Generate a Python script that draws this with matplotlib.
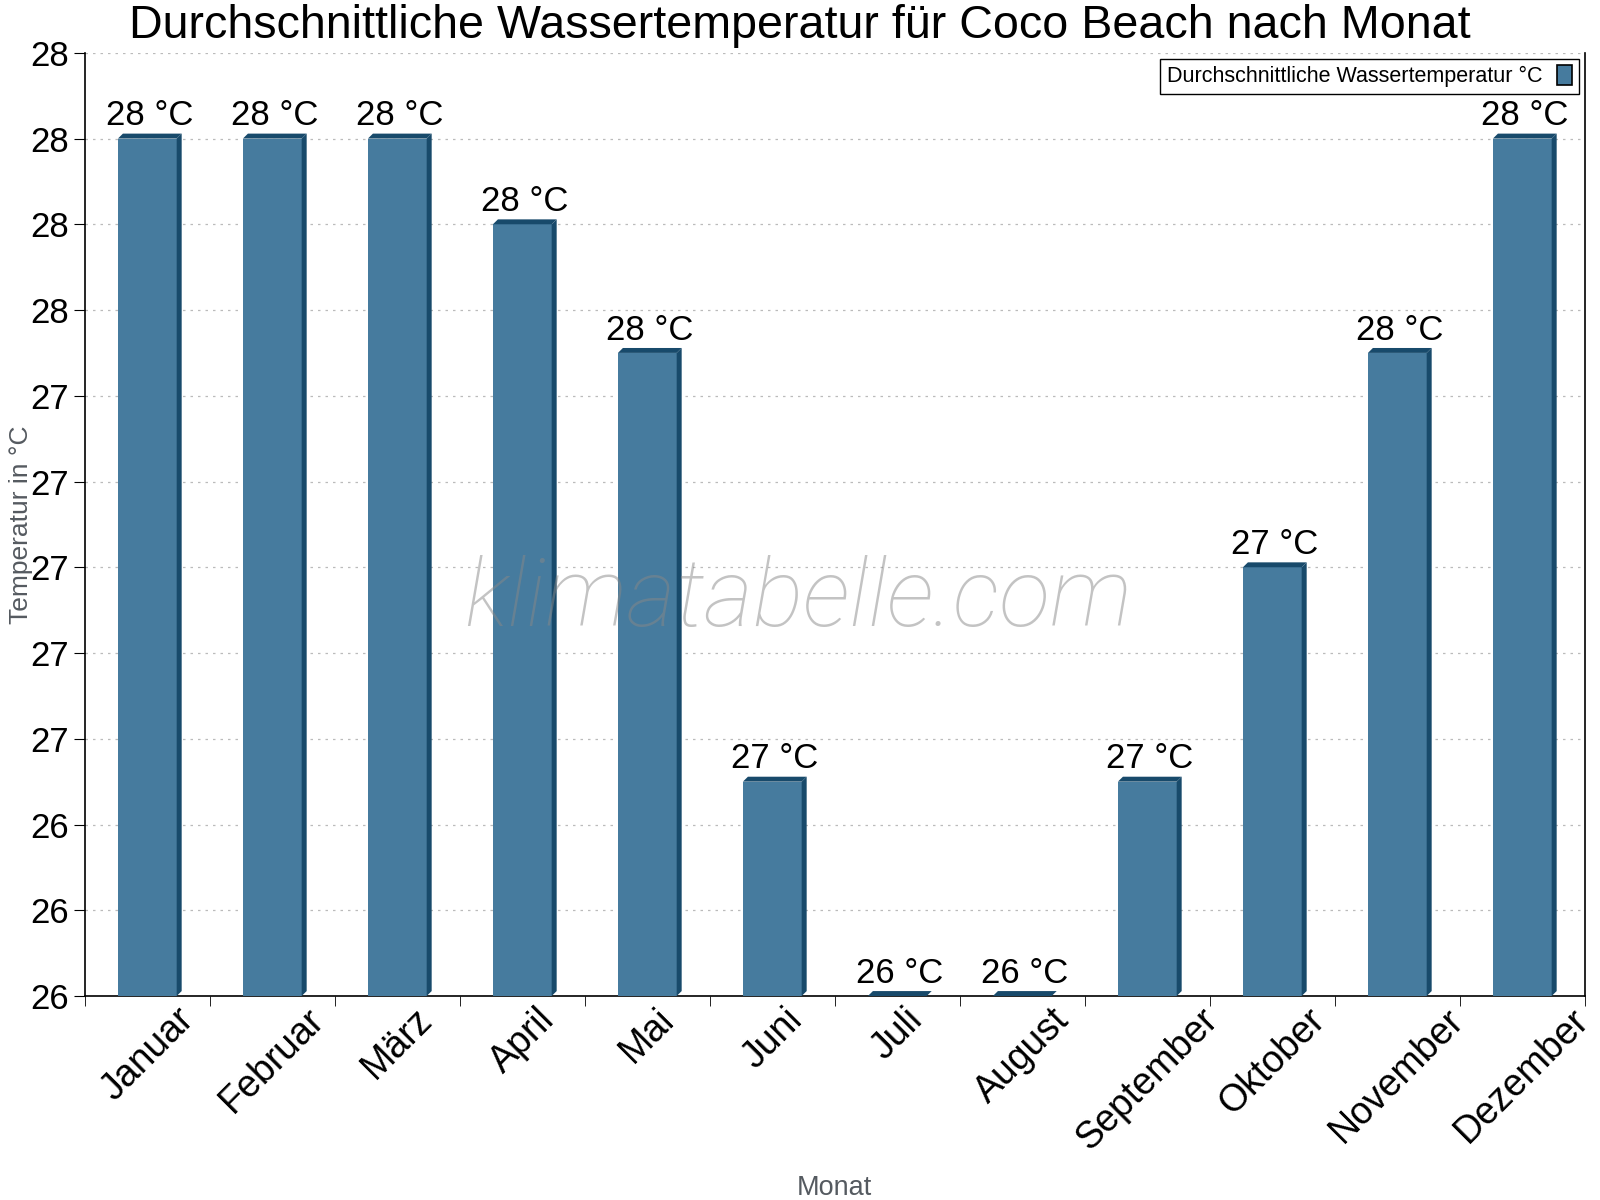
import math
import numpy as np
from matplotlib import pyplot as plt
from matplotlib.patches import Polygon, Patch
from matplotlib.ticker import FuncFormatter, FixedLocator

plt.rcParams['font.family'] = ['Liberation Sans', 'DejaVu Sans']

monate = ['Januar', 'Februar', 'März', 'April', 'Mai', 'Juni', 'Juli',
          'August', 'September', 'Oktober', 'November', 'Dezember']
wassertemp = [28.0, 28.0, 28.0, 27.8, 27.5, 26.5, 26.0, 26.0, 26.5, 27.0, 27.5, 28.0]
y_ticks = [26.0, 26.2, 26.4, 26.6, 26.8, 27.0, 27.2, 27.4, 27.6, 27.8, 28.0, 28.2]

front = '#467b9e'
dark = '#184a6b'

fig = plt.figure(figsize=(16, 12), dpi=100)
ax = fig.add_axes([0.053, 0.17, 0.9375, 0.786])

x = np.arange(len(monate))
ymin = 26.0
bars = ax.bar(x, np.array(wassertemp) - ymin, bottom=ymin, width=0.47,
              color=front, zorder=3)

ax.set_xlim(-0.5, len(monate) - 0.5)
ax.set_ylim(y_ticks[0], y_ticks[-1])

# 3D-Effekt: Seite und Deckel
dx = 0.04
dy = 0.0115
for b in bars:
    x0 = b.get_x()
    w = b.get_width()
    y0 = b.get_y()
    top = y0 + b.get_height()
    seite = Polygon([(x0 + w, y0), (x0 + w + dx, y0 + dy), (x0 + w + dx, top + dy), (x0 + w, top)],
                    closed=True, facecolor=dark, edgecolor='none', zorder=3)
    deckel = Polygon([(x0, top), (x0 + dx, top + dy), (x0 + w + dx, top + dy), (x0 + w, top)],
                     closed=True, facecolor=dark, edgecolor='none', zorder=3)
    ax.add_patch(seite)
    ax.add_patch(deckel)
    ax.text(b.get_x() + w / 2 + dx / 2, top + dy + 0.003,
            '%d °C' % math.floor(top + 0.5), ha='center', va='bottom', fontsize=25, zorder=5)

# Achsen
ax.yaxis.set_major_locator(FixedLocator(y_ticks))
ax.yaxis.set_major_formatter(FuncFormatter(lambda v, p: '%d' % math.floor(v + 0.5 + 1e-9)))
ax.tick_params(axis='y', labelsize=25, length=8, direction='out')
ax.grid(axis='y', linestyle=(0, (2, 4)), color='#bbbbbb', linewidth=0.9, zorder=0)

ax.set_xticks(x)
ax.set_xticklabels(monate, rotation=45, ha='center', fontsize=27)
ax.tick_params(axis='x', which='major', length=0, pad=4)
ax.set_xticks(np.arange(-0.5, len(monate), 1), minor=True)
ax.tick_params(axis='x', which='minor', length=7, direction='out')

ax.spines['top'].set_visible(False)
for s in ['left', 'bottom', 'right']:
    ax.spines[s].set_color('black')
    ax.spines[s].set_linewidth(1.2)

ax.set_xlabel('Monat', fontsize=19.5, color='#555a60')
ax.set_ylabel('Temperatur in °C', fontsize=19, color='#555a60')
ax.xaxis.set_label_coords(0.5, -0.19)
ax.yaxis.set_label_coords(-0.0345, 0.5)

fig.suptitle('Durchschnittliche Wassertemperatur für Coco Beach nach Monat',
             fontsize=33.6, x=0.5, y=0.997, va='top')

# Wasserzeichen
ax.text(0.4755, 0.42, 'klimatabelle.com', transform=ax.transAxes, fontsize=68,
        family=['Roboto', 'DejaVu Sans'], fontweight='light', style='italic',
        color='#888888', alpha=0.5, ha='center', va='center', zorder=4)

leg = ax.legend(handles=[Patch(facecolor=front, edgecolor='black', linewidth=1.2,
                               label='Durchschnittliche Wassertemperatur °C')],
                loc='upper right', bbox_to_anchor=(0.996, 0.9935), borderaxespad=0,
                markerfirst=False, fontsize=15.5, fancybox=False, framealpha=1,
                edgecolor='black', handlelength=0.7, handleheight=1.0,
                borderpad=0.3, handletextpad=0.7)
leg.get_frame().set_linewidth(1.0)

fig.savefig('out.png', dpi=100)
